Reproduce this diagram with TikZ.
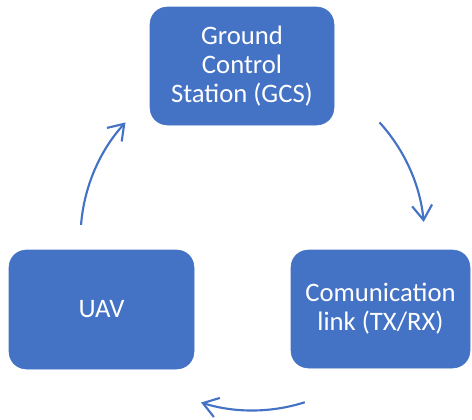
\documentclass[tikz,border=0pt]{standalone}
\usepackage{fontspec}
\setmainfont{Carlito}
\usetikzlibrary{arrows.meta}
\definecolor{officeblue}{HTML}{4472C4}
\tikzset{
  box/.style={draw=officeblue, fill=officeblue, rounded corners=13pt, text=white,
    align=center, font=\fontsize{20pt}{21.75pt}\selectfont, inner sep=0pt},
  cyc/.style={draw=officeblue, line width=1.6pt,
    -{Straight Barb[length=11pt, width=15pt, line width=1.6pt]}}
}
\begin{document}
\begin{tikzpicture}[x=0.75pt, y=-0.75pt]
\useasboundingbox (0,0) rectangle (472,419);
\node[box, minimum width=138pt, minimum height=88.5pt] (gcs) at (242,66) {Ground\\Control\\Station (GCS)};
\node[box, minimum width=138.75pt, minimum height=89.25pt] (uav) at (101.5,309.5) {UAV};
\node[box, minimum width=134.25pt, minimum height=88.5pt] (com) at (380.5,309) {Comunication\\link (TX/RX)};
\coordinate (c) at (252.5,238.4);
\draw[cyc] (c) ++(-175.5:172) arc[start angle=-175.5, end angle=-137.6, radius=172];
\draw[cyc] (c) ++(-42.4:172) arc[start angle=-42.4, end angle=-5.5, radius=172];
\draw[cyc] (c) ++(72.3:172) arc[start angle=72.3, end angle=107.4, radius=172];
\end{tikzpicture}
\end{document}
